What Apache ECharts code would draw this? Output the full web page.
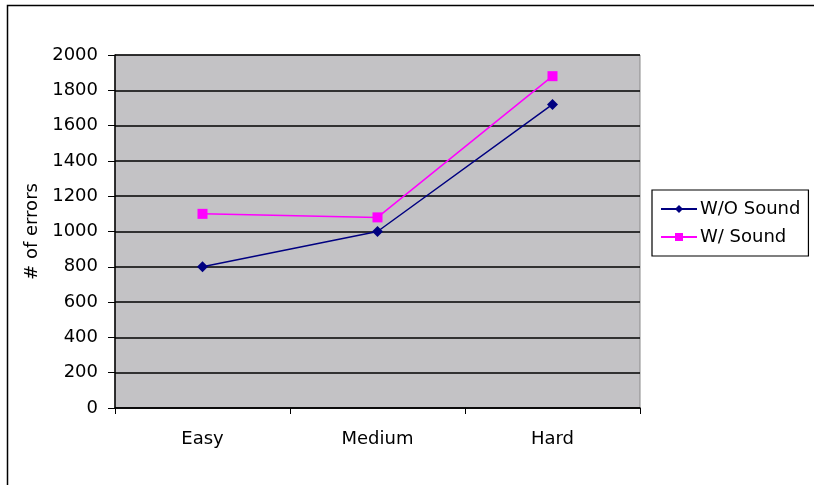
<!DOCTYPE html>
<html>
<head>
<meta charset="utf-8">
<script src="https://cdn.jsdelivr.net/npm/echarts@6/dist/echarts.min.js"></script>
<style>
html,body{margin:0;padding:0;background:#fff;}
#c{width:814px;height:485px;}
</style>
</head>
<body>
<div id="c"></div>
<script>
const categories = ['Easy', 'Medium', 'Hard'];
const withoutSound = [800, 1000, 1720];
const withSound = [1100, 1080, 1880];
const seriesNames = ['W/O Sound', 'W/ Sound'];

const chart = echarts.init(document.getElementById('c'));
const font = 'DejaVu Sans, Verdana, sans-serif';
chart.setOption({
  animation: false,
  backgroundColor: '#ffffff',
  graphic: [{
    type: 'rect', silent: true, z: -1,
    shape: { x: 7.5, y: 5.5, width: 900, height: 600 },
    style: { fill: 'none', stroke: '#000', lineWidth: 1.5 }
  }],
  grid: {
    left: 115, right: 174, top: 55, bottom: 77,
    show: true, backgroundColor: '#c3c2c5', borderColor: '#8a8a8a', borderWidth: 1
  },
  legend: {
    orient: 'vertical', left: 652, top: 190,
    padding: [9, 8, 9, 8],
    itemGap: 8, itemWidth: 36, itemHeight: 10,
    borderColor: '#000', borderWidth: 1.2, backgroundColor: '#fff',
    textStyle: { fontFamily: font, fontSize: 18, lineHeight: 20, color: '#000', padding: [0, 0, 0, -2] },
    data: seriesNames
  },
  xAxis: {
    type: 'category', data: categories, boundaryGap: true,
    axisLine: { lineStyle: { color: '#000', width: 1.5 } },
    axisTick: { show: true, length: 6, lineStyle: { color: '#000' } },
    axisLabel: { fontFamily: font, fontSize: 18, color: '#000', margin: 22 },
    splitLine: { show: false }
  },
  yAxis: {
    type: 'value', min: 0, max: 2000, interval: 200,
    name: '# of errors', nameLocation: 'middle', nameGap: 71, nameRotate: 90,
    nameTextStyle: { fontFamily: font, fontSize: 18, color: '#000' },
    axisLine: { show: true, lineStyle: { color: '#000', width: 1.5 } },
    axisTick: { show: true, length: 7, lineStyle: { color: '#000' } },
    axisLabel: { fontFamily: font, fontSize: 18, color: '#000', margin: 17, formatter: v => String(v) },
    splitLine: { show: true, lineStyle: { color: '#000', width: 1.5 } }
  },
  series: [
    {
      name: seriesNames[0], type: 'line', data: withoutSound,
      symbol: 'diamond', symbolSize: 11,
      itemStyle: { color: '#000080' },
      lineStyle: { color: '#000080', width: 1.5 }
    },
    {
      name: seriesNames[1], type: 'line', data: withSound,
      symbol: 'rect', symbolSize: 10,
      itemStyle: { color: '#ff00ff' },
      lineStyle: { color: '#ff00ff', width: 1.5 }
    }
  ]
});
</script>
</body>
</html>
